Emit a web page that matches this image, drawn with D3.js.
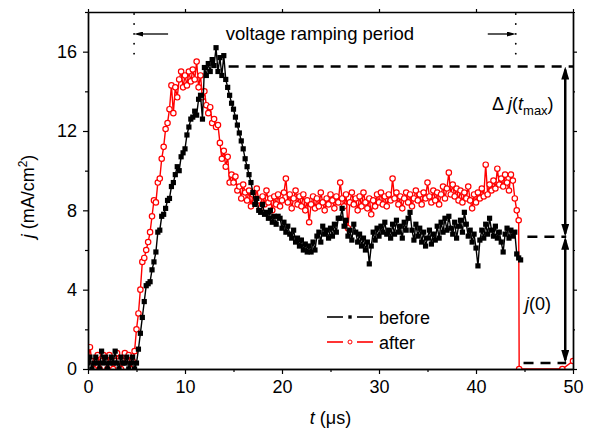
<!DOCTYPE html>
<html lang="en">
<head>
<meta charset="UTF-8">
<title>Current density vs time</title>
<script src="https://d3js.org/d3.v7.min.js"></script>
<style>
  body { margin: 0; background: #fff; }
  svg text { font-family: "Liberation Sans", Arial, sans-serif; fill: #000; }
</style>
</head>
<body>
<svg id="chart" width="592" height="435"></svg>
<script>
// sampling step of both traces (us)
const dt = 0.2;

const xTicks = [0, 10, 20, 30, 40, 50];
const yTicks = [0, 4, 8, 12, 16];

// "before" trace, one row per microsecond (5 samples)
const jBefore = [
  0.3,0.6,0.0,0.3,0.6,  0.3,0.0,0.9,0.3,0.6,  0.0,0.3,0.6,0.3,0.9,  0.3,0.0,0.6,0.3,0.3,
  0.6,0.0,0.3,0.6,0.0,  0.3,1.0,1.8,2.6,3.4,  4.2,4.3,4.4,5.0,5.4,  5.9,6.9,7.0,7.7,7.8,
  8.1,8.5,8.6,9.2,9.4,  9.8,10.2,10.0,10.7,10.9,  11.1,11.8,12.2,12.6,12.7,  13.0,12.8,13.6,13.8,12.6,
  15.2,14.8,15.4,15.0,15.6,  15.3,16.2,15.0,15.7,14.8,  15.8,14.6,14.2,13.8,13.4,  13.1,12.7,12.3,11.9,11.5,
  11.1,10.6,10.2,9.8,9.4,  8.9,8.3,8.6,8.0,7.9,  8.3,7.8,7.9,7.6,8.0,  7.4,7.7,7.3,7.7,7.6,
  7.1,7.4,6.9,7.2,6.8,  6.6,7.0,6.4,6.6,6.2,  6.5,6.0,6.3,5.9,6.2,  5.9,6.4,6.0,6.7,6.9,
  6.4,7.2,6.8,7.0,6.6,  7.1,6.7,7.3,6.9,7.6,  7.6,8.1,7.2,7.5,6.7,  7.0,6.5,7.3,6.9,6.4,
  6.8,6.2,6.6,6.0,6.4,  5.3,6.2,6.9,6.5,7.1,  6.7,7.2,6.9,7.4,6.8,  7.0,6.6,7.3,6.8,7.5,
  6.9,7.2,6.6,7.4,7.0,  7.6,7.9,7.0,6.5,7.3,  6.7,7.1,6.4,6.9,6.2,  6.6,7.0,6.3,6.8,6.5,
  7.2,6.6,7.4,6.9,7.6,  7.0,7.7,7.1,6.8,7.4,  6.6,7.2,7.5,6.9,7.9,  7.3,6.7,7.0,6.4,6.8,
  6.1,5.2,6.5,7.0,6.6,  7.3,6.8,7.6,7.0,6.7,  7.2,6.6,6.9,6.4,5.9,  6.8,7.1,6.6,7.0,6.7,
  6.9,5.8,5.6,5.5
];

// "after" trace, same sampling
const jAfter = [
  0.4,1.1,0.4,0.0,0.4,  0.7,0.0,0.4,0.7,0.4,  0.0,0.7,0.4,0.0,0.4,  0.8,0.4,0.0,0.4,0.8,
  0.4,0.7,0.0,0.4,0.9,  2.0,2.8,4.0,5.4,5.6,  6.0,6.4,6.9,7.7,8.5,  8.4,9.4,9.6,10.6,11.2,
  12.1,12.4,13.1,14.3,12.9,  14.2,13.7,14.6,15.0,14.2,  14.8,14.3,15.0,14.5,15.1,  14.6,15.5,14.2,14.8,13.7,
  14.0,13.3,12.9,13.2,12.4,  12.6,12.2,12.3,11.4,10.6,  11.0,10.2,10.7,9.4,9.8,  9.4,9.7,9.0,9.2,8.6,
  9.3,8.9,8.5,9.0,8.2,  8.8,8.4,9.1,8.5,8.1,  8.7,8.3,9.0,8.4,8.6,  8.0,8.7,8.3,8.8,8.2,
  8.5,8.9,9.6,8.4,8.8,  8.1,8.6,9.0,8.3,8.7,  8.2,8.8,8.0,8.5,7.4,  8.3,8.7,8.1,8.6,8.2,
  8.9,8.4,8.0,8.6,8.3,  8.8,8.5,8.1,8.7,8.4,  9.4,8.6,8.2,8.8,7.1,  8.4,8.9,8.3,8.6,8.0,
  8.7,8.2,8.9,8.4,8.1,  8.6,7.8,8.5,8.2,8.8,  8.4,8.9,8.3,8.7,8.2,  8.8,8.5,9.6,8.6,8.9,
  8.3,8.7,8.1,8.6,8.9,  8.4,8.8,8.2,8.6,9.0,  8.5,8.8,8.3,8.9,8.6,  9.4,8.7,8.4,9.0,8.5,
  8.9,8.3,8.8,9.2,8.6,  9.1,9.9,8.8,9.3,8.7,  9.1,8.5,9.0,8.4,8.9,  8.6,9.2,8.5,8.1,8.8,
  8.4,8.9,8.6,9.1,8.7,  10.3,8.8,9.3,9.0,9.5,  9.1,10.1,9.3,9.6,9.2,  9.8,9.4,9.0,9.8,9.5,
  8.6,8.0,7.5
];
// samples of "after" once the voltage is switched off
const afterTailT = [44.45, 48.9, 50.0];
const afterTailJ = [0.0, 0.0, 0.4];

// annotation levels
const rampStart = 4.75, rampEnd = 44.1;
const jMax = 15.25, jSteady = 6.67, jZero = 0.3;
const arrowT = 49.2;

const svg = d3.select("#chart");
const margin = {left: 88, right: 19, top: 12, bottom: 66};
const W = 592 - margin.left - margin.right;
const H = 435 - margin.top - margin.bottom;

const x = d3.scaleLinear().domain([0, 50]).range([0, W]);
const y = d3.scaleLinear().domain([0, 18]).range([H, 0]);

const g = svg.append("g").attr("transform", `translate(${margin.left},${margin.top})`);

const defs = svg.append("defs");
defs.append("clipPath").attr("id", "plot-clip")
  .append("rect").attr("x", 0).attr("y", 0).attr("width", W).attr("height", H);

function arrowMarker(id, len, wid) {
  defs.append("marker").attr("id", id)
    .attr("viewBox", `0 0 ${len} ${wid}`)
    .attr("markerUnits", "userSpaceOnUse")
    .attr("markerWidth", len).attr("markerHeight", wid)
    .attr("refX", len - 3).attr("refY", wid / 2)
    .attr("orient", "auto-start-reverse")
    .append("path").attr("d", `M0,0L${len},${wid / 2}L0,${wid}Z`).attr("fill", "#000");
}
arrowMarker("head-big", 13, 8);
arrowMarker("head-small", 9, 5);

// ---- annotations behind the data ----
const ann = g.append("g");
[rampStart, rampEnd].forEach(t => {
  ann.append("line")
    .attr("x1", x(t)).attr("x2", x(t))
    .attr("y1", 2).attr("y2", 42)
    .attr("stroke", "#000").attr("stroke-width", 1.8)
    .attr("stroke-linecap", "round")
    .attr("stroke-dasharray", "0.1,9.8");
});
ann.append("line")
  .attr("x1", x(rampStart) + 34).attr("x2", x(rampStart) + 3)
  .attr("y1", 22).attr("y2", 22)
  .attr("stroke", "#000").attr("stroke-width", 1.3)
  .attr("marker-end", "url(#head-small)");
ann.append("line")
  .attr("x1", x(rampEnd) - 28).attr("x2", x(rampEnd) - 3)
  .attr("y1", 22).attr("y2", 22)
  .attr("stroke", "#000").attr("stroke-width", 1.3)
  .attr("marker-end", "url(#head-small)");
ann.append("text")
  .attr("x", (x(rampStart) + x(rampEnd)) / 2 - 5).attr("y", 28)
  .attr("text-anchor", "middle").attr("font-size", 18.5)
  .text("voltage ramping period");

const dashes = [
  {t0: 14.5, t1: 50, v: jMax},
  {t0: 45.3, t1: 49.3, v: jSteady},
  {t0: 44.9, t1: 49.3, v: jZero}
];
dashes.forEach(d => {
  ann.append("line")
    .attr("x1", x(d.t0)).attr("x2", x(d.t1))
    .attr("y1", y(d.v)).attr("y2", y(d.v))
    .attr("stroke", "#000").attr("stroke-width", 2.5)
    .attr("stroke-dasharray", "10,7");
});
[[jMax, jSteady], [jSteady, jZero]].forEach(([a, b]) => {
  ann.append("line")
    .attr("x1", x(arrowT)).attr("x2", x(arrowT))
    .attr("y1", y(a) + 3).attr("y2", y(b) - 3)
    .attr("stroke", "#000").attr("stroke-width", 2.5)
    .attr("marker-start", "url(#head-big)")
    .attr("marker-end", "url(#head-big)");
});

const dj = ann.append("text").attr("x", 404).attr("y", 98).attr("font-size", 18);
dj.append("tspan").text("\u0394 ");
dj.append("tspan").attr("font-style", "italic").text("j");
dj.append("tspan").text("(");
dj.append("tspan").attr("font-style", "italic").text("t");
dj.append("tspan").attr("dy", 5).attr("font-size", 13).text("max");
dj.append("tspan").attr("dy", -5).text(")");

const j0 = ann.append("text").attr("x", 437).attr("y", 298).attr("font-size", 18);
j0.append("tspan").attr("font-style", "italic").text("j");
j0.append("tspan").text("(0)");

// ---- data ----
const before = jBefore.map((v, i) => ({t: i * dt, j: v}));
const after = jAfter.map((v, i) => ({t: i * dt, j: v}))
  .concat(afterTailT.map((t, i) => ({t: t, j: afterTailJ[i]})));

const line = d3.line().x(d => x(d.t)).y(d => y(d.j));
const data = g.append("g").attr("clip-path", "url(#plot-clip)");

data.append("path").datum(after)
  .attr("d", line).attr("fill", "none")
  .attr("stroke", "#ff0000").attr("stroke-width", 1.4);
data.selectAll(".after").data(after).enter().append("circle")
  .attr("class", "after")
  .attr("cx", d => x(d.t)).attr("cy", d => y(d.j)).attr("r", 2.7)
  .attr("fill", "#fff").attr("stroke", "#ff0000").attr("stroke-width", 1.2);

data.append("path").datum(before)
  .attr("d", line).attr("fill", "none")
  .attr("stroke", "#000").attr("stroke-width", 1.4);
data.selectAll(".before").data(before).enter().append("rect")
  .attr("class", "before")
  .attr("x", d => x(d.t) - 2.6).attr("y", d => y(d.j) - 2.6)
  .attr("width", 5.2).attr("height", 5.2)
  .attr("fill", "#000");

// ---- axes ----
function styleAxis(sel) {
  sel.selectAll("path.domain").attr("stroke", "#000").attr("stroke-width", 1.4);
  sel.selectAll(".tick line").attr("stroke", "#000").attr("stroke-width", 1.2);
  sel.selectAll("text").attr("font-size", 18).attr("fill", "#000")
    .attr("font-family", "'Liberation Sans', Arial, sans-serif");
}
const xMinor = [5, 15, 25, 35, 45];
const yMinor = [2, 6, 10, 14, 18];

g.append("g").attr("transform", `translate(0,${H})`)
  .call(d3.axisBottom(x).tickValues(xTicks).tickSize(5).tickPadding(6).tickSizeOuter(0))
  .call(styleAxis);
g.append("g").attr("transform", `translate(0,${H})`)
  .call(d3.axisBottom(x).tickValues(xMinor).tickSize(3).tickFormat("").tickSizeOuter(0))
  .call(styleAxis);
g.append("g")
  .call(d3.axisLeft(y).tickValues(yTicks).tickSize(5).tickPadding(6).tickSizeOuter(0))
  .call(styleAxis);
g.append("g")
  .call(d3.axisLeft(y).tickValues(yMinor).tickSize(3).tickFormat("").tickSizeOuter(0))
  .call(styleAxis);
g.append("g")
  .call(d3.axisTop(x).tickValues(xTicks).tickSize(3).tickFormat("").tickSizeOuter(0))
  .call(styleAxis);
g.append("g").attr("transform", `translate(${W},0)`)
  .call(d3.axisRight(y).tickValues(yTicks).tickSize(4).tickFormat("").tickSizeOuter(0))
  .call(styleAxis);
g.append("g").attr("transform", `translate(${W},0)`)
  .call(d3.axisRight(y).tickValues(yMinor).tickSize(2).tickFormat("").tickSizeOuter(0))
  .call(styleAxis);

// axis titles
const xt = svg.append("text").attr("x", margin.left + W / 2).attr("y", 424)
  .attr("text-anchor", "middle").attr("font-size", 18);
xt.append("tspan").attr("font-style", "italic").text("t");
xt.append("tspan").text(" (\u03bcs)");

const yt = svg.append("text")
  .attr("transform", `translate(34,${margin.top + H / 2 + 6}) rotate(-90)`)
  .attr("text-anchor", "middle").attr("font-size", 18);
yt.append("tspan").attr("font-style", "italic").text("j");
yt.append("tspan").text(" (mA/cm");
yt.append("tspan").attr("dy", -7).attr("font-size", 12).text("2");
yt.append("tspan").attr("dy", 7).text(")");

// ---- legend ----
const legend = svg.append("g");
const legendRows = [
  {label: "before", color: "#000", cy: 317, shape: "square"},
  {label: "after", color: "#ff0000", cy: 342, shape: "circle"}
];
legendRows.forEach(r => {
  legend.append("line").attr("x1", 327).attr("x2", 343).attr("y1", r.cy).attr("y2", r.cy)
    .attr("stroke", r.color).attr("stroke-width", 1.6);
  legend.append("line").attr("x1", 357).attr("x2", 373).attr("y1", r.cy).attr("y2", r.cy)
    .attr("stroke", r.color).attr("stroke-width", 1.6);
  if (r.shape === "square") {
    legend.append("rect").attr("x", 348.3).attr("y", r.cy - 1.7).attr("width", 3.4).attr("height", 3.4)
      .attr("fill", r.color);
  } else {
    legend.append("circle").attr("cx", 350).attr("cy", r.cy).attr("r", 2)
      .attr("fill", "#fff").attr("stroke", r.color).attr("stroke-width", 1);
  }
  legend.append("text").attr("x", 379).attr("y", r.cy + 6.5).attr("font-size", 18).text(r.label);
});
</script>
</body>
</html>
